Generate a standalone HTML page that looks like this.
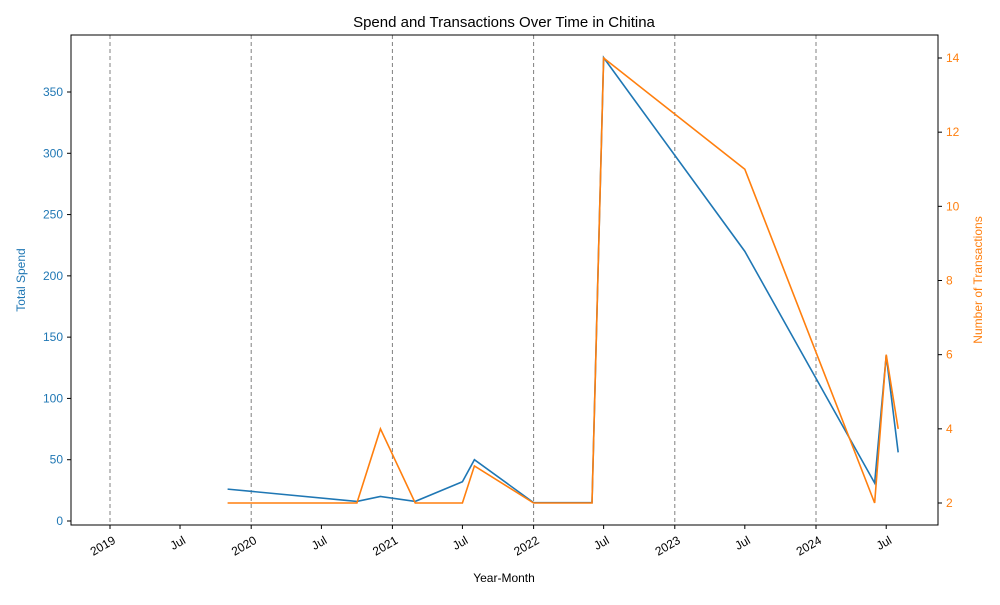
<!DOCTYPE html>
<html><head><meta charset="utf-8"><style>
body{margin:0;background:#fff;font-family:"Liberation Sans",sans-serif;}
svg text{font-family:"Liberation Sans",sans-serif;}
</style></head><body>
<svg id="chart" width="1000" height="600" xmlns="http://www.w3.org/2000/svg">
<rect width="1000" height="600" fill="#fff"/>
<text x="504" y="27" font-size="15" text-anchor="middle">Spend and Transactions Over Time in Chitina</text>
<g id="grid"></g><g id="lines"></g><g id="axes"></g>
<rect x="71" y="35" width="867" height="490" fill="none" stroke="#000" stroke-width="1"/>
<text x="504" y="582" font-size="12" text-anchor="middle">Year-Month</text>
<text transform="translate(25,280) rotate(-90)" font-size="12" fill="#1f77b4" text-anchor="middle">Total Spend</text>
<text transform="translate(982,280) rotate(-90)" font-size="12" fill="#ff7f0e" text-anchor="middle">Number of Transactions</text>
</svg>
<script>
const dates=["2019-11","2020-10","2020-12","2021-03","2021-07","2021-08","2022-01","2022-06","2022-07","2023-07","2024-06","2024-07","2024-08"];
const spend=[26,16,20,16,32,50,15,15,378,220,31,135,56];
const txns=[2,2,4,2,2,3,2,2,14,11,2,6,4];
const spendTicks=[0,50,100,150,200,250,300,350];
const txnTicks=[2,4,6,8,10,12,14];
const yearTicks=[2019,2020,2021,2022,2023,2024];
const NS="http://www.w3.org/2000/svg";
function frac(y,m){const t=Date.UTC(y,m-1,1),s=Date.UTC(y,0,1),e=Date.UTC(y+1,0,1);return y+(t-s)/(e-s);}
function xs(v){return 110+(v-2019)*141.2;}
function ysL(v){return 521-v*(429/350);}
function ysR(v){return 503-(v-2)*(445/12);}
function el(tag,attrs,parent){const e=document.createElementNS(NS,tag);for(const k in attrs)e.setAttribute(k,attrs[k]);parent.appendChild(e);return e;}
const grid=document.getElementById('grid'),lines=document.getElementById('lines'),axes=document.getElementById('axes');
const xv=dates.map(d=>{const [y,m]=d.split('-').map(Number);return frac(y,m);});
const xt=[];yearTicks.forEach(y=>{xt.push([frac(y,1),String(y),true]);xt.push([frac(y,7),"Jul",false]);});
xt.forEach(t=>{const x=xs(t[0]);if(x<71||x>938)return;
 if(t[2]){const g=el('line',{x1:x,x2:x,y1:35,y2:525,stroke:'#808080','stroke-dasharray':'4,3','stroke-width':1},grid);
 }
 el('line',{x1:x,x2:x,y1:525,y2:529,stroke:'#000'},axes);
 const tx=el('text',{transform:`translate(${x+2},${535}) rotate(-30)`,'font-size':12,'text-anchor':'end','dominant-baseline':'hanging'},axes);
 tx.textContent=t[1];
 });
spendTicks.forEach(v=>{const y=ysL(v);el('line',{x1:67,x2:71,y1:y,y2:y,stroke:'#000'},axes);
 const t=el('text',{x:63,y:y+4,'font-size':12,fill:'#1f77b4','text-anchor':'end'},axes);t.textContent=v;
 });
txnTicks.forEach(v=>{const y=ysR(v);el('line',{x1:938,x2:942,y1:y,y2:y,stroke:'#000'},axes);
 const t=el('text',{x:946,y:y+4,'font-size':12,fill:'#ff7f0e'},axes);t.textContent=v;
 });
const p1=el('polyline',{points:xv.map((x,i)=>xs(x)+','+ysL(spend[i])).join(' '),fill:'none',stroke:'#1f77b4','stroke-width':1.6},lines);

const p2=el('polyline',{points:xv.map((x,i)=>xs(x)+','+ysR(txns[i])).join(' '),fill:'none',stroke:'#ff7f0e','stroke-width':1.6},lines);

</script>
</body></html>
